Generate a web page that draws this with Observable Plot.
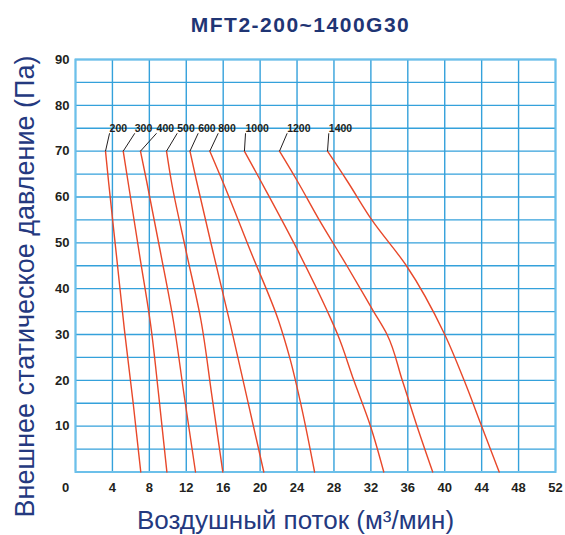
<!DOCTYPE html>
<html><head><meta charset="utf-8">
<script src="https://cdn.jsdelivr.net/npm/d3@7"></script>
<script src="https://cdn.jsdelivr.net/npm/@observablehq/plot@0.6"></script>
<style>body{margin:0;background:#fff} #chart svg{display:block}</style>
</head><body><div id="chart"></div>
<script>
const title = "MFT2-200~1400G30";
const xLabel = "Воздушный поток (м³/мин)";
const yLabel = "Внешнее статическое давление (Па)";
const models = ["200","300","400","500","600","800","1000","1200","1400"];

const flow200 = [3.25,3.6,4.45,5.3,6.25,7.07];
const pres200 = [70,63,47,31,15,0];
const flow300 = [5.17,5.67,6.97,8.15,9.0,9.9];
const pres300 = [70,63.6,47,32,17,0];
const flow400 = [7.04,7.69,9.2,10.6,11.75,13.0];
const pres400 = [70,63.6,48,33,17,0];
const flow500 = [9.86,10.37,12.0,13.6,14.75,15.96];
const pres500 = [70,63.6,48,33,17,0];
const flow600 = [12.4,13.1,14.9,16.8,18.6,20.4];
const pres600 = [70,63.6,48,32,16,0];
const flow800 = [14.55,15.9,19.0,22.0,23.2,24.5,25.9];
const pres800 = [70,63.6,48,33,25,14,0];
const flow1000 = [18.3,20.04,23.65,27.3,28.4,30.15,31.96,33.4];
const pres1000 = [70,63.6,50,35,30,20,10,0];
const flow1200 = [22.1,24.0,26.4,29.4,32.3,33.75,35.4,37.0,38.7];
const pres1200 = [70,63.6,55,45,35,30,20,10,0];
const flow1400 = [27.3,29.4,32.1,35.85,40.0,42.1,44.0,45.9];
const pres1400 = [70,63.6,55,45,30,20,10,0];

const labelFlow = [3.69,6.42,8.78,11.02,13.29,15.46,18.42,22.93,27.44];
const labelPressure = 73.9;

const xTicks = [0,4,8,12,16,20,24,28,32,36,40,44,48,52];
const yTicks = [10,20,30,40,50,60,70,80,90];
const yGrid = [0,5,10,15,20,25,30,35,40,45,50,55,60,65,70,75,80,85,90];

const flows = [flow200,flow300,flow400,flow500,flow600,flow800,flow1000,flow1200,flow1400];
const press = [pres200,pres300,pres400,pres500,pres600,pres800,pres1000,pres1200,pres1400];

const rows = models.flatMap((m,i) => flows[i].map((f,j) => ({model:m, flow:f, pres:press[i][j]})).reverse());
const labels = models.map((m,i) => ({model:m, lx:labelFlow[i], ly:labelPressure, sx:flows[i][0], sy:press[i][0]}));

const font = "'Liberation Sans', Arial, Helvetica, sans-serif";
const grid = "#34a1db";
const red = "#e8482a";
const ink = "#231f20";
const navy = "#24397f";

const chart = Plot.plot({
  width: 565, height: 535,
  marginTop: 59, marginBottom: 63.5, marginLeft: 75, marginRight: 10,
  x: {domain: [0, 52]},
  y: {domain: [0, 90]},
  style: {fontFamily: font, background: "#fff"},
  marks: [
    Plot.gridY(yGrid, {stroke: grid, strokeOpacity: 1, strokeWidth: 1.4}),
    Plot.gridX(xTicks, {stroke: grid, strokeOpacity: 1, strokeWidth: 1.4}),
    Plot.frame({stroke: "#6cc0ea", strokeWidth: 2}),
    Plot.line(rows, {x: "flow", y: "pres", z: "model", stroke: red, strokeWidth: 1.4, curve: "monotone-y"}),
    Plot.link(labels, {x1: "lx", y1: "ly", x2: "sx", y2: "sy", stroke: ink, strokeWidth: 1}),
    Plot.text(labels, {x: "lx", y: "ly", text: "model", textAnchor: "start", lineAnchor: "bottom", dy: -1.5, fontSize: 10.5, fontWeight: "bold", fill: ink}),
    Plot.axisY(yTicks, {tickSize: 0, tickPadding: 6, fontSize: 13, fontWeight: "bold", color: ink, label: null}),
    Plot.axisX(xTicks.filter(d => d > 0), {tickSize: 0, tickPadding: 11, fontSize: 13, fontWeight: "bold", color: ink, label: null}),
    Plot.text([xTicks[0]], {x: d => d, y: 0, text: d => String(d), dx: -10, dy: 11, lineAnchor: "top", fontSize: 13, fontWeight: "bold", fill: ink}),
    Plot.text([title], {text: d => d, frameAnchor: "top", dx: -15, dy: -27.3, lineAnchor: "bottom", fontSize: 21, fontWeight: "bold", fill: "#1f3574"}),
    Plot.text([xLabel], {text: d => d, frameAnchor: "bottom", dx: -20, dy: 56.8, lineAnchor: "bottom", fontSize: 26, fill: navy}),
    Plot.text([yLabel], {text: d => d, x: -5.45, y: 40.47, rotate: -90, lineAnchor: "middle", fontSize: 27, fill: navy})
  ]
});
document.getElementById("chart").appendChild(chart);
chart.querySelectorAll("text").forEach(t => {
  const s = t.textContent;
  if (models.includes(s) && t.getAttribute("text-anchor") === "start") {
    t.style.textDecoration = "underline";
    t.style.letterSpacing = "-0.4px";
  }
  if (s === title) t.style.letterSpacing = "1.5px";
});
</script>
</body></html>
